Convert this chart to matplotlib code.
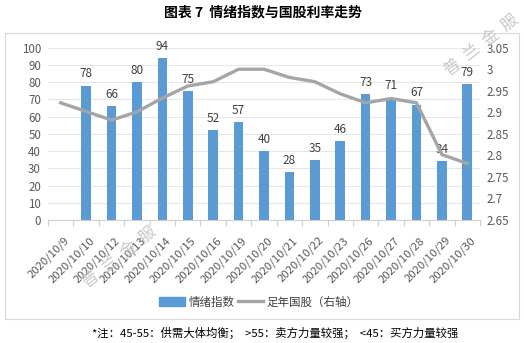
import matplotlib
matplotlib.use("Agg")
import matplotlib.pyplot as plt
import matplotlib.transforms as mtransforms
from matplotlib.patches import Rectangle
from matplotlib.lines import Line2D
import numpy as np

plt.rcParams['font.family'] = ['Noto Sans CJK SC', 'DejaVu Sans']

dates = ["2020/10/9", "2020/10/10", "2020/10/12", "2020/10/13", "2020/10/14",
         "2020/10/15", "2020/10/16", "2020/10/19", "2020/10/20", "2020/10/21",
         "2020/10/22", "2020/10/23", "2020/10/26", "2020/10/27", "2020/10/28",
         "2020/10/29", "2020/10/30"]
sentiment = [np.nan, 78, 66, 80, 94, 75, 52, 57, 40, 28, 35, 46, 73, 71, 67, 34, 79]
bond_yield = [2.922, 2.902, 2.882, 2.901, 2.933, 2.961, 2.971, 3.00, 3.00, 2.981,
              2.971, 2.943, 2.922, 2.932, 2.922, 2.802, 2.781]

title = "图表 7  情绪指数与国股利率走势"
footnote = "*注：45-55：供需大体均衡；  >55：卖方力量较强；  <45：买方力量较强"
bar_label = "情绪指数"
line_label = "足年国股（右轴）"

W, H = 524, 343
fig = plt.figure(figsize=(W / 100, H / 100), dpi=100)

# outer border
fig.patches.append(Rectangle((5 / W, 1 - 319 / H), 514 / W, 286 / H,
                             transform=fig.transFigure, fill=False,
                             edgecolor='#D9D9D9', linewidth=0.8))

ax = fig.add_axes([48 / W, 1 - 220 / H, 432 / W, 172.3 / H])
x = np.arange(len(dates))
bar_color = '#5B9BD5'
bars = ax.bar(x, sentiment, width=0.38, color=bar_color, zorder=2)
ax.set_ylim(0, 100)
ax.set_xlim(-0.5, len(dates) - 0.5)
ax.set_yticks(np.arange(0, 101, 10))
ax.yaxis.grid(True, color='#E6E6E6', linewidth=0.8, zorder=0)
ax.set_axisbelow(True)
for s in ['top', 'right', 'left']:
    ax.spines[s].set_visible(False)
ax.spines['bottom'].set_color('#D0D0D0')
ax.tick_params(axis='y', length=0, labelsize=8.3, labelcolor='#595959', pad=5)
ax.set_xticks(x)
ax.set_xticklabels(dates, rotation=45, ha='right', rotation_mode='anchor',
                   fontsize=8.2, color='#595959')
ax.tick_params(axis='x', which='major', length=0, pad=5)
offset = mtransforms.ScaledTranslation(3 / 100, -8 / 100, fig.dpi_scale_trans)
for lbl in ax.get_xticklabels():
    lbl.set_transform(lbl.get_transform() + offset)
ax.set_xticks(np.arange(-0.5, len(dates), 1), minor=True)
ax.tick_params(axis='x', which='minor', length=4, color='#D0D0D0', width=0.8)

for xi, v in zip(x, sentiment):
    if not np.isnan(v):
        ax.text(xi, v + 3, f"{int(v)}", ha='center', va='bottom',
                fontsize=8.5, color='#404040', zorder=5)

ax2 = ax.twinx()
line_color = '#A5A5A5'
ax2.plot(x, bond_yield, color=line_color, linewidth=2.4, zorder=3)
ax2.set_ylim(2.65, 3.05)
ax2.set_yticks([2.65, 2.7, 2.75, 2.8, 2.85, 2.9, 2.95, 3.0, 3.05])
ax2.set_yticklabels(['2.65', '2.7', '2.75', '2.8', '2.85', '2.9', '2.95', '3', '3.05'])
for s in ['top', 'right', 'left', 'bottom']:
    ax2.spines[s].set_visible(False)
ax2.tick_params(axis='y', length=0, labelsize=8.3, labelcolor='#595959', pad=5)

# title
fig.text(263 / W, 1 - 12 / H, title, ha='center', va='center',
         fontsize=10, fontweight='bold', color='#000000')

# legend
handles = [Rectangle((0, 0), 1, 1, color=bar_color),
           Line2D([0], [0], color=line_color, linewidth=2.4)]
fig.legend(handles, [bar_label, line_label], loc='center',
           bbox_to_anchor=(259 / W, 1 - 302 / H), ncol=2, frameon=False,
           fontsize=8.3, handlelength=2.2, handletextpad=0.3, columnspacing=0.3,
           labelcolor='#404040')

# footnote
fig.text(275 / W, 1 - 333 / H, footnote, ha='center', va='center',
         fontsize=8.2, color='#000000')

# watermarks
wm = "普  兰  金  服"
fig.text(482 / W, 1 - 45 / H, wm, ha='center', va='center', rotation=38,
         fontsize=12, color='#BEBEBE', alpha=0.85, zorder=10)
fig.text(120 / W, 1 - 257 / H, wm, ha='center', va='center', rotation=38,
         fontsize=12, color='#BEBEBE', alpha=0.85, zorder=10)

fig.savefig("out.png", dpi=100)
